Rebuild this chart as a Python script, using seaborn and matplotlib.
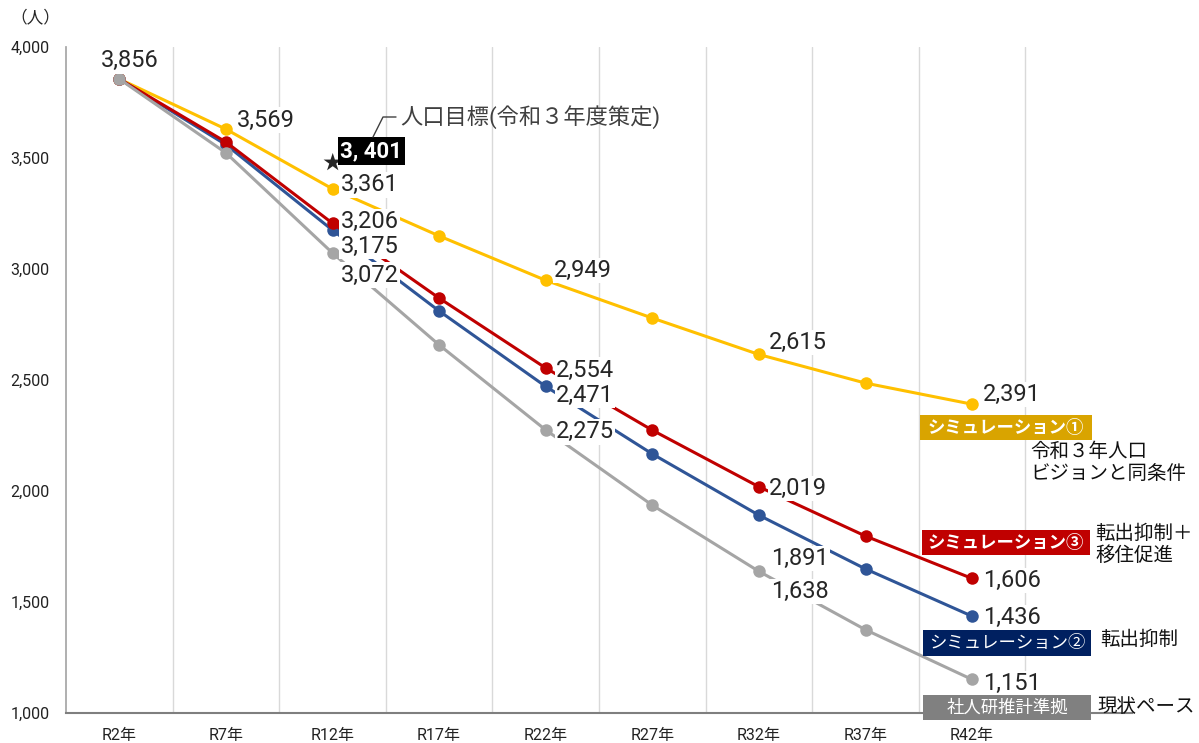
import numpy as np
import pandas as pd
import matplotlib.pyplot as plt
import seaborn as sns
from matplotlib.patches import Rectangle
from matplotlib.lines import Line2D

W, H = 1199, 743

years = ['R2年', 'R7年', 'R12年', 'R17年', 'R22年', 'R27年', 'R32年', 'R37年', 'R42年']
sim1 = [3856, 3630, 3361, 3149, 2949, 2779, 2615, 2486, 2391]
sim2 = [3856, 3560, 3175, 2811, 2471, 2167, 1891, 1649, 1436]
sim3 = [3856, 3572, 3206, 2869, 2554, 2274, 2019, 1797, 1606]
base = [3856, 3523, 3072, 2658, 2275, 1936, 1638, 1375, 1151]
target_value = 3401
# the R7 label of simulation 1 reads 3,569 in the source chart
label_text_override = {('sim1', 1): '3,569'}

df = pd.DataFrame({'x': range(len(years)), 'year': years,
                   'sim1': sim1, 'sim2': sim2, 'sim3': sim3, 'base': base})

colors = {'sim1': '#FFC000', 'sim2': '#2F5597', 'sim3': '#C00000', 'base': '#A5A5A5'}

# which points get a value label, with offset in pixels (dx, dy up)
label_offsets = {
    'sim1': {1: (11, 9), 2: (8, 4), 4: (8, 10), 6: (10, 12), 8: (11, 10)},
    'sim3': {2: (8, 2), 4: (10, -2), 6: (10, -2), 8: (11, -2)},
    'sim2': {2: (8, -16), 4: (10, -9), 6: (12, -43), 8: (11, -1)},
    'base': {2: (8, -22), 4: (10, -2), 6: (12, -20), 8: (11, -4)},
}

sns.set_theme(style='white')
plt.rcParams['font.family'] = ['Roboto', 'Noto Sans CJK JP', 'DejaVu Sans']

fig = plt.figure(figsize=(W / 100, H / 100), dpi=100)
ax = fig.add_axes([66 / W, 30 / H, (1132 - 66) / W, 666 / H])

for key in ['sim1', 'sim2', 'sim3', 'base']:
    sns.lineplot(data=df, x='x', y=key, color=colors[key], marker='o',
                 markersize=9, markeredgewidth=0, linewidth=2.2, ax=ax)

ax.set_xlim(-0.5, 9.5)
ax.set_ylim(1000, 4000)
ax.set_xticks(range(len(years)))
ax.set_xticklabels(years)
yt = list(range(1000, 4001, 500))
ax.set_yticks(yt)
ax.set_yticklabels([f'{v:,}' for v in yt])
ax.set_xlabel('')
ax.set_ylabel('')
for b in np.arange(0.5, 9, 1):
    ax.axvline(b, color='#D9D9D9', lw=1, zorder=0)
for s in ['top', 'right']:
    ax.spines[s].set_visible(False)
ax.spines['left'].set_color('#A6A6A6')
ax.spines['bottom'].set_color('#7F7F7F')
ax.spines['bottom'].set_linewidth(1.5)
ax.tick_params(axis='both', length=0, colors='#222222')
ax.tick_params(axis='x', pad=11, labelsize=11.5)
ax.tick_params(axis='y', pad=12, labelsize=11.5)

k = 0.72  # px -> pt
lbl_box = dict(boxstyle='square,pad=0.05', fc='white', ec='none')
ax.annotate(f'{sim1[0]:,}', xy=(0, sim1[0]), xytext=(10 * k, 18 * k),
            textcoords='offset points', ha='center', va='center',
            fontsize=17, bbox=lbl_box, zorder=5)
for key, offs in label_offsets.items():
    vals = df[key].tolist()
    for i, (dx, dy) in offs.items():
        txt = label_text_override.get((key, i), f'{vals[i]:,}')
        ax.annotate(txt, xy=(i, vals[i]), xytext=(dx * k, dy * k),
                    textcoords='offset points', ha='left', va='center',
                    fontsize=17, bbox=lbl_box, zorder=5)

# target star
ax.annotate('★', xy=(2, target_value), xytext=(0, 15 * k), textcoords='offset points',
            ha='center', va='center', fontsize=14, zorder=6)
ax.annotate('3, 401', xy=(2, target_value), xytext=(8 * k, 29 * k),
            textcoords='offset points', ha='left', va='center', fontsize=16,
            fontweight='bold', color='white',
            bbox=dict(boxstyle='square,pad=0.12', fc='black', ec='none'), zorder=6)
fig.add_artist(Line2D([373 / W, 383 / W, 396 / W], [1 - 137 / H, 1 - 117 / H, 1 - 117 / H],
                      transform=fig.transFigure, color='#404040', lw=1))
fig.text(400 / W, 1 - 117 / H, '人口目標(令和３年度策定)', fontsize=16, color='#404040',
         ha='left', va='center')

fig.text(10 / W, 1 - 17 / H, '（人）', fontsize=12, ha='left', va='center')

# legend boxes
boxes = [
    (920, 1092, 415, 440, '#D9A400', 'シミュレーション①', 'bold'),
    (922, 1090, 530, 555, '#C00000', 'シミュレーション③', 'bold'),
    (923, 1091, 630, 656, '#002060', 'シミュレーション②', 'normal'),
    (923, 1091, 695, 720, '#808080', '社人研推計準拠', 'normal'),
]
for x0, x1, y0, y1, fc, txt, wt in boxes:
    fig.add_artist(Rectangle((x0 / W, 1 - y1 / H), (x1 - x0) / W, (y1 - y0) / H,
                             transform=fig.transFigure, fc=fc, ec='none', zorder=6))
    fig.text((x0 + x1) / 2 / W, 1 - (y0 + y1) / 2 / H, txt, color='white', fontsize=12.5,
             fontweight=wt, ha='center', va='center', zorder=7)

side = [
    (1030, 463, '令和３年人口\nビジョンと同条件'),
    (1095, 545, '転出抑制＋\n移住促進'),
    (1100, 640, '転出抑制'),
    (1097, 707, '現状ペース'),
]
for x, y, txt in side:
    fig.text(x / W, 1 - y / H, txt, fontsize=14, ha='left', va='center',
             linespacing=1.25, color='#111111')

fig.savefig('out.png', dpi=100)
